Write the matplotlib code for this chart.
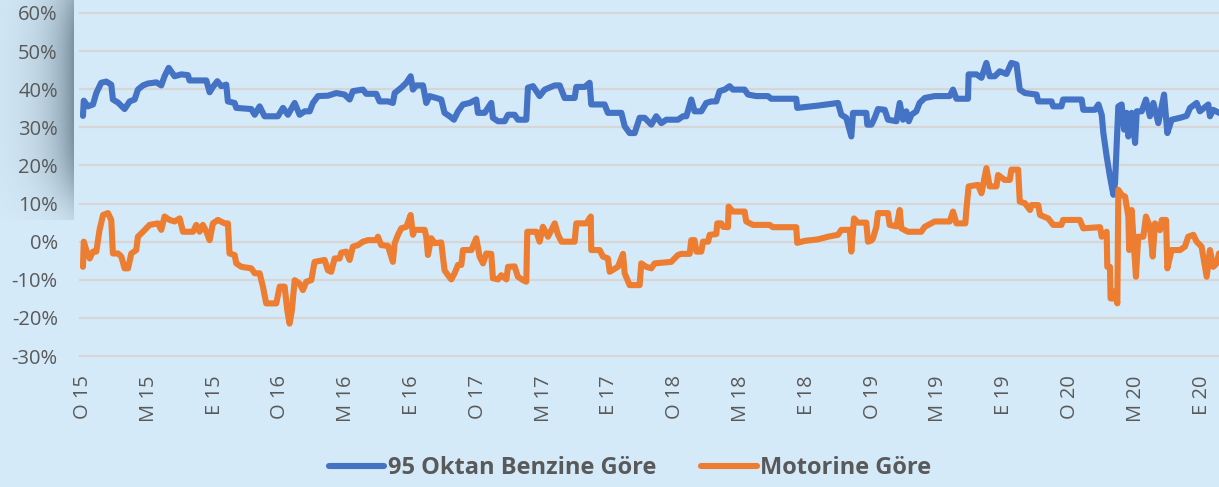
import numpy as np
import matplotlib
matplotlib.use("Agg")
import matplotlib.pyplot as plt
from matplotlib.lines import Line2D

# ---- data: (months since Jan 2015, premium %) ----
benzin_2015 = [(0.0,33),(0.05,37),(0.3,35.5),(0.61,36),(0.81,39),(1.11,41.7),(1.42,42),(1.72,41.2),(1.82,37.3),(2.13,36.5),(2.53,34.8),(2.84,36.8),(3.14,37.3),(3.34,39.9),(3.65,41),(3.95,41.5),(4.46,41.8),(4.76,41),(4.96,43.4),(5.21,45.6),(5.57,43.4),(5.98,43.9),(6.38,43.7),(6.48,42.3),(7.5,42.3),(7.7,39.2),(7.9,40.6),(8.17,42.1),(8.41,40.8),(8.71,41.2),(8.81,36.8),(9.22,36.4),(9.32,35.1),(10.23,34.8),(10.44,33.3),(10.74,35.5),(11.04,32.9),(11.85,32.9)]
benzin_2016 = [(12.16,35.1),(12.46,33.3),(12.87,36.4),(13.17,33.3),(13.48,34.2),(13.78,34.2),(13.98,36.4),(14.29,38.2),(14.89,38.3),(15.4,39),(15.9,38.6),(16.21,37.3),(16.41,39.5),(17.02,39.9),(17.22,38.8),(17.83,38.8),(18.03,36.8),(18.54,36.8),(18.84,36.4),(18.95,39),(19.35,40.4),(19.66,41.7),(19.92,43.4),(20.06,39.9),(20.26,41),(20.67,41),(20.87,36.4),(21.07,38.2),(21.48,37.7),(21.78,37.3),(21.98,33.8),(22.29,32.9),(22.55,32),(22.8,34.2),(23.1,36),(23.51,36.4),(23.91,37.3)]
benzin_2017 = [(24.01,33.8),(24.42,33.8),(24.82,36.4),(24.92,32.5),(25.23,31.6),(25.64,31.6),(25.84,33.3),(26.24,33.3),(26.44,32),(26.95,32),(27.05,40.4),(27.36,40.8),(27.76,38.2),(28.07,39.9),(28.68,41),(28.98,41),(29.28,37.7),(29.89,37.7),(29.99,40.6),(30.5,40.6),(30.8,41.7),(30.9,36),(31.71,36),(31.91,33.8),(32.73,33.8),(32.93,30.3),(33.23,28.5),(33.54,28.5),(33.84,32.5),(34.14,32.5),(34.55,30.7),(34.85,32.9),(35.16,31.1),(35.46,32),(36.17,32)]
benzin_2018 = [(36.47,32.9),(36.68,32.9),(36.98,37.3),(37.18,34.2),(37.59,34.2),(37.89,36.4),(38.2,36.8),(38.5,36.8),(38.7,39.5),(39.01,39.9),(39.31,40.8),(39.51,39.9),(40.22,39.9),(40.43,38.6),(40.93,38.2),(41.64,38.2),(41.84,37.5),(43.36,37.5),(43.42,35.1),(44.68,35.7),(45.9,36.4),(46.1,33.3),(46.4,32.5),(46.71,27.6),(46.81,33.8),(47.62,33.8),(47.68,30.7),(47.93,30.7),(48.13,32.5),(48.33,34.8)]
benzin_2019 = [(48.74,34.6),(48.94,32),(49.45,31.6),(49.65,36.4),(49.85,32),(50.05,34.2),(50.2,31.6),(50.36,33.3),(50.66,34.2),(50.86,36.4),(51.17,37.7),(51.78,38.2),(52.69,38.2),(52.89,39.9),(53.1,37.5),(53.8,37.5),(53.84,43.9),(54.31,43.9),(54.62,43),(54.92,46.9),(55.12,43.4),(55.43,43.4),(55.73,44.7),(56.14,44),(56.44,46.9),(56.75,46.5),(56.95,39.9),(57.26,39),(57.97,38.6),(58.07,36.8),(58.88,36.8),(58.98,35.5),(59.48,35.5),(59.58,37.3)]
benzin_2020 = [(60.71,37.3),(60.81,34.6),(61.52,34.6),(61.73,36),(61.93,33.3),(62.03,28.5),(62.23,22.4),(62.43,17.1),(62.64,12.3),(62.74,15.4),(62.94,35.5),(63.14,36),(63.29,29.4),(63.45,33.8),(63.55,27.6),(63.75,33.8),(63.96,25.9),(64.06,34.2),(64.36,34.2),(64.62,37.3),(64.86,32.9),(65.07,36.4),(65.37,31.1),(65.72,38.6),(65.92,28.5),(66.18,32),(66.69,32.5),(67.09,33),(67.3,35.1),(67.7,36.4),(67.9,34.2),(68.41,36),(68.51,32.9),(68.71,34.6),(69.06,33.8)]

motorin_2015 = [(0.0,-6.6),(0.05,0),(0.2,-2.2),(0.41,-4.4),(0.61,-2.6),(0.81,-2.6),(1.01,3.1),(1.22,7),(1.52,7.5),(1.72,5.7),(1.82,-3.1),(2.13,-3.1),(2.33,-3.9),(2.53,-7),(2.74,-7),(2.94,-3.1),(3.24,-2.2),(3.34,1.3),(3.65,2.6),(4.05,4.4),(4.56,4.8),(4.76,3.1),(4.96,6.6),(5.27,5.7),(5.57,5.3),(5.88,6.1),(6.08,2.6),(6.69,2.6),(6.89,4.4),(7.09,2.6),(7.29,4.4),(7.5,2.6),(7.7,0.4),(7.9,4.8),(8.2,5.7),(8.61,4.8),(8.81,4.8),(8.91,-3.1),(9.22,-3.5),(9.32,-5.7),(9.63,-6.6),(10.23,-7),(10.44,-8.3),(10.74,-8.3),(10.94,-11.8),(11.14,-16.2),(11.75,-16.2),(11.96,-11.8)]
motorin_2016 = [(12.06,-11.8),(12.26,-11.8),(12.42,-18),(12.56,-21.5),(12.7,-18),(12.87,-10.1),(13.17,-11),(13.37,-12.7),(13.58,-10.5),(13.88,-10.1),(14.08,-5.3),(14.69,-4.8),(14.89,-7.5),(15.09,-7.9),(15.3,-4.4),(15.6,-4.4),(15.7,-2.9),(16.0,-2.6),(16.21,-4.8),(16.41,-1.3),(16.72,-0.9),(17.02,0),(17.33,0.4),(17.83,0.4),(17.93,1.3),(18.13,-0.9),(18.54,-1.1),(18.84,-5.3),(18.95,-0.4),(19.15,1.8),(19.35,3.5),(19.66,3.9),(19.92,7),(20.06,1.8),(20.16,3.1),(20.77,3.1),(20.87,1.3),(20.97,-3.5),(21.17,0.9),(21.38,-0.4),(21.78,-0.2),(21.98,-7.5),(22.19,-8.8),(22.39,-9.9),(22.59,-8.3),(22.8,-6.1),(23.0,-6.1),(23.1,-2.2),(23.61,-2.2),(23.91,0.9)]
motorin_2017 = [(24.11,-3.9),(24.32,-5.7),(24.52,-3.1),(24.82,-3.2),(24.92,-9.6),(25.23,-9.9),(25.43,-8.8),(25.74,-9.9),(25.84,-6.6),(26.24,-6.5),(26.44,-9.2),(26.75,-10.1),(26.95,-10.5),(27.01,2.6),(27.56,2.6),(27.76,0),(27.96,3.9),(28.27,1.3),(28.68,4.8),(28.88,1.8),(29.09,0),(29.89,0),(29.99,4.8),(30.6,4.8),(30.87,6.6),(30.9,-2.2),(31.41,-2.2),(31.61,-3.9),(31.91,-4.4),(32.02,-7.9),(32.52,-6.6),(32.83,-3.2),(32.93,-8.3),(33.23,-11.4),(33.84,-11.4),(33.94,-5.7),(34.24,-6.6),(34.55,-7),(34.75,-5.7),(35.76,-5.3),(36.17,-3.5)]
motorin_2018 = [(36.37,-3.2),(36.88,-3.2),(36.98,0.4),(37.18,0.4),(37.29,-2.6),(37.59,-2.6),(37.69,0),(38.0,0),(38.1,1.8),(38.5,2),(38.56,4.8),(38.81,4.8),(38.91,3.9),(39.21,3.8),(39.25,9.2),(39.51,7.9),(40.22,7.9),(40.32,5.3),(40.73,4.4),(41.74,4.4),(41.94,3.8),(43.36,3.8),(43.42,-0.3),(43.87,0.2),(44.68,0.6),(45.29,1.3),(45.9,1.8),(46.1,3.1),(46.61,3.1),(46.71,-2.6),(46.87,6.1),(47.11,5),(47.62,5),(47.72,0),(47.93,0.3),(48.03,0.9),(48.23,3.9),(48.33,7.5)]
motorin_2019 = [(48.94,7.5),(49.04,4.4),(49.45,4),(49.65,8.3),(49.75,3.5),(50.15,2.6),(50.96,2.6),(51.17,3.9),(51.78,5.3),(52.69,5.3),(52.89,7.9),(53.1,4.8),(53.64,4.8),(53.7,8.3),(53.84,14.5),(54.41,14.9),(54.62,12.7),(54.92,19.3),(55.12,14.5),(55.53,14.5),(55.63,17.5),(56.03,16.2),(56.34,16.2),(56.44,18.9),(56.85,18.9),(56.95,10.5),(57.26,10.1),(57.57,8.3),(57.67,9.6),(58.07,9.6),(58.18,7),(58.68,6.1),(58.98,4.4),(59.48,4.4),(59.58,5.7)]
motorin_2020 = [(60.6,5.7),(60.81,3.5),(61.83,3.8),(61.93,1.3),(62.23,2.6),(62.27,-6.6),(62.43,-6.6),(62.47,-14.9),(62.64,-14.9),(62.74,-13),(62.88,-16.2),(62.94,13.6),(63.14,12.3),(63.35,11.8),(63.55,6.6),(63.6,-2.2),(63.75,8.3),(63.89,-1.3),(64.01,-9.2),(64.15,1.3),(64.46,1.3),(64.62,6.6),(64.86,3.9),(65.03,-3.9),(65.17,4.8),(65.47,3),(65.58,5.7),(65.84,5.7),(65.92,-7),(66.18,-2.2),(66.69,-2.2),(66.99,-1.3),(67.19,1.3),(67.5,1.8),(67.7,0),(68.0,-1.3),(68.31,-9.2),(68.51,-2.2),(68.71,-6.6),(68.91,-5.7),(69.06,-3.1)]

tick_months = list(range(0, 69, 4))
tick_labels = ["O 15", "M 15", "E 15", "O 16", "M 16", "E 16", "O 17", "M 17", "E 17",
               "O 18", "M 18", "E 18", "O 19", "M 19", "E 19", "O 20", "M 20", "E 20"]
series_names = ["95 Oktan Benzine Göre", "Motorine Göre"]
y_ticks = list(range(-30, 61, 10))

# ---- styling ----
BG = "#D5EAF8"
BLUE = "#4472C4"
ORANGE = "#ED7D31"
TXT = "#595959"
plt.rcParams["font.family"] = ["Open Sans", "DejaVu Sans"]

W, H = 1219, 487
fig = plt.figure(figsize=(W / 100, H / 100), dpi=100, facecolor=BG)

# shadow artifact at upper left
sh = fig.add_axes([0, 1 - 220 / H, 74 / W, 220 / H])
sh.set_axis_off()
xx = np.linspace(0, 74, 200)
yy = np.linspace(0, 220, 300)
X, Y = np.meshgrid(xx, yy)
alpha = 0.8 * np.exp(-(74 - X) / 26.0) * np.exp(-((Y - 90) / 115.0) ** 4)
rgba = np.zeros(X.shape + (4,))
rgba[..., 0] = 0x62 / 255
rgba[..., 1] = 0x78 / 255
rgba[..., 2] = 0x88 / 255
rgba[..., 3] = alpha
sh.imshow(rgba, extent=[0, 74, 220, 0], aspect="auto", interpolation="bilinear")
sh.set_xlim(0, 74)
sh.set_ylim(220, 0)

ax = fig.add_axes([80 / W, 1 - 356 / H, 1 - 80 / W, (356 - 13) / H])
ax.set_facecolor(BG)
ax.patch.set_alpha(0)

def unzip(*segs):
    pts = [p for s in segs for p in s]
    return [p[0] for p in pts], [p[1] for p in pts]

bx, by = unzip(benzin_2015, benzin_2016, benzin_2017, benzin_2018, benzin_2019, benzin_2020)
mx, my = unzip(motorin_2015, motorin_2016, motorin_2017, motorin_2018, motorin_2019, motorin_2020)

ax.plot(bx, by, color=BLUE, lw=4.4, solid_joinstyle="round", solid_capstyle="round", zorder=3)
ax.plot(mx, my, color=ORANGE, lw=4.4, solid_joinstyle="round", solid_capstyle="round", zorder=3)

ax.set_ylim(-30, 60)
ax.set_xlim(-0.18, 69.06)
ax.set_yticks(y_ticks)
ax.set_yticklabels([f"{v}%" for v in y_ticks])
ax.set_xticks(tick_months)
ax.set_xticklabels(tick_labels, rotation=90, va="top", ha="center")
ax.tick_params(axis="y", length=0, pad=16, labelsize=14.5, labelcolor=TXT)
ax.tick_params(axis="x", length=0, pad=14, labelsize=14.5, labelcolor=TXT)
for s in ax.spines.values():
    s.set_visible(False)
ax.yaxis.grid(True, color="#D6D6D6", lw=1.6, zorder=0)
ax.set_axisbelow(True)
for gl in ax.get_ygridlines():
    gl.set_clip_on(False)

handles = [Line2D([], [], color=BLUE, lw=4.4, solid_capstyle="round"),
           Line2D([], [], color=ORANGE, lw=4.4, solid_capstyle="round")]
leg = fig.legend(handles, series_names, loc="center", bbox_to_anchor=(630 / W, 1 - 468 / H),
                 ncol=2, frameon=False, handlelength=2.35, handletextpad=0.15, columnspacing=1.9,
                 borderaxespad=0, borderpad=0, prop={"weight": "bold", "size": 17})
for t in leg.get_texts():
    t.set_color(TXT)

fig.savefig("out.png", dpi=100, facecolor=BG)
